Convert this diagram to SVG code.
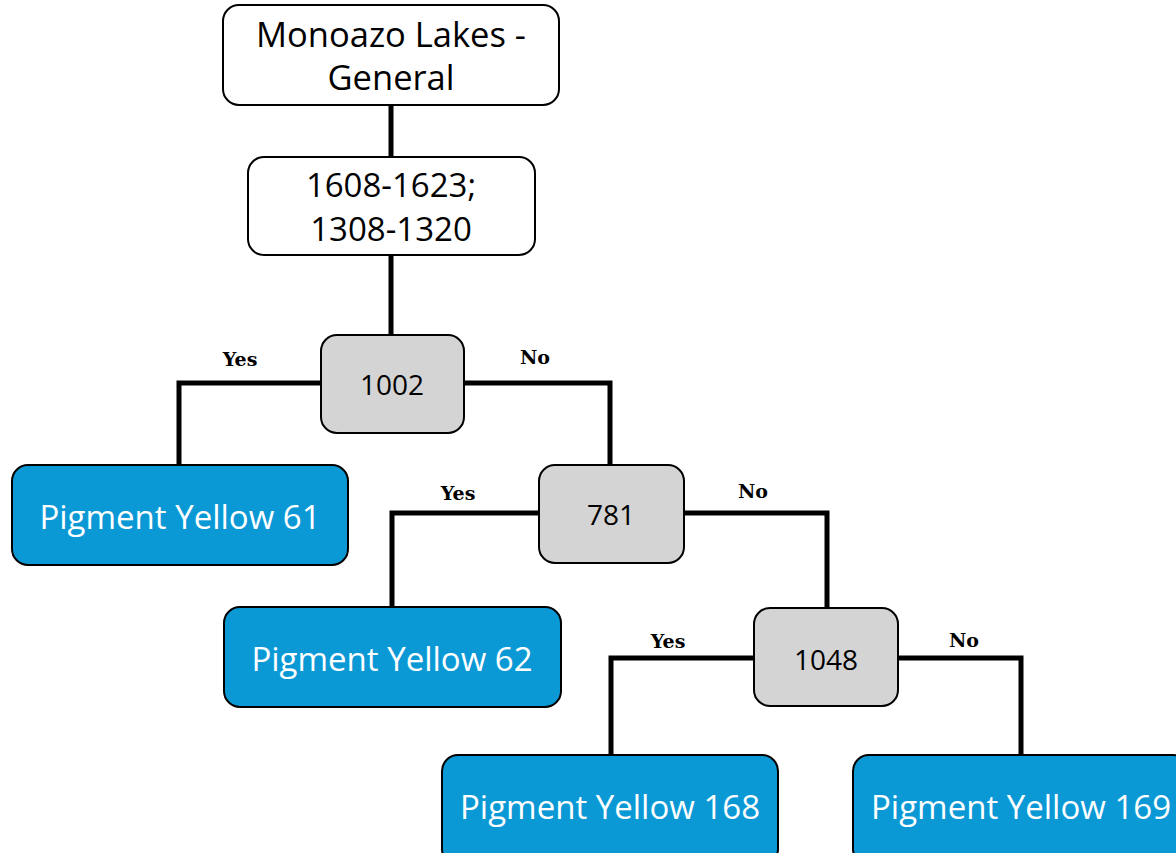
<svg xmlns="http://www.w3.org/2000/svg" width="1176" height="853" viewBox="0 0 1176 853">
  <style>
    .box { stroke: #000; stroke-width: 2; }
    .white { fill: #ffffff; }
    .test { fill: #d4d4d4; }
    .leaf { fill: #0b99d6; }
    .lbl { font-family: "Open Sans", "Noto Sans", sans-serif; text-anchor: middle; }
    .dark { fill: #000; }
    .light { fill: #ffffff; }
    .edge { fill: none; stroke: #000; stroke-width: 5; }
    .ans { font-family: "DejaVu Serif", "Liberation Serif", serif; font-weight: bold; font-size: 19px; text-anchor: middle; fill: #000; }
  </style>

  <g id="connectors">
    <path class="edge" d="M391 105 V157"/>
    <path class="edge" d="M391 255 V335"/>
    <path class="edge" d="M321 383 H179 V465"/>
    <path class="edge" d="M464 383 H610 V465"/>
    <path class="edge" d="M539 513 H392 V607"/>
    <path class="edge" d="M684 513 H827 V608"/>
    <path class="edge" d="M754 658 H611 V755"/>
    <path class="edge" d="M898 658 H1021 V755"/>
    <text class="ans" x="240" y="366">Yes</text>
    <text class="ans" x="535" y="364">No</text>
    <text class="ans" x="458" y="500">Yes</text>
    <text class="ans" x="753" y="498">No</text>
    <text class="ans" x="668" y="648">Yes</text>
    <text class="ans" x="964" y="647">No</text>
  </g>

  <g id="root">
    <rect class="box white" x="223" y="5" width="336" height="100" rx="16"/>
    <text class="lbl dark" x="391" y="47" font-size="34.5" font-family="Lato, 'Open Sans', sans-serif">Monoazo Lakes -</text>
    <text class="lbl dark" x="391" y="90" font-size="34.5" font-family="Lato, 'Open Sans', sans-serif">General</text>
  </g>

  <g id="range">
    <rect class="box white" x="248" y="157" width="287" height="98" rx="16"/>
    <text class="lbl dark" x="391" y="197" font-size="33">1608-1623;</text>
    <text class="lbl dark" x="391" y="241" font-size="33">1308-1320</text>
  </g>

  <g id="n1002">
    <rect class="box test" x="321" y="335" width="143" height="98" rx="16"/>
    <text class="lbl dark" x="392" y="395" font-size="28">1002</text>
  </g>

  <g id="py61">
    <rect class="box leaf" x="12" y="465" width="336" height="100" rx="16"/>
    <text class="lbl light" x="180" y="529" font-size="33">Pigment Yellow 61</text>
  </g>

  <g id="n781">
    <rect class="box test" x="539" y="465" width="145" height="98" rx="16"/>
    <text class="lbl dark" x="611" y="525" font-size="28">781</text>
  </g>

  <g id="py62">
    <rect class="box leaf" x="224" y="607" width="337" height="100" rx="16"/>
    <text class="lbl light" x="392" y="671" font-size="33">Pigment Yellow 62</text>
  </g>

  <g id="n1048">
    <rect class="box test" x="754" y="608" width="144" height="98" rx="16"/>
    <text class="lbl dark" x="826" y="670" font-size="28">1048</text>
  </g>

  <g id="py168">
    <rect class="box leaf" x="442" y="755" width="336" height="110" rx="16"/>
    <text class="lbl light" x="610" y="819" font-size="33">Pigment Yellow 168</text>
  </g>

  <g id="py169">
    <rect class="box leaf" x="853" y="755" width="336" height="110" rx="16"/>
    <text class="lbl light" x="1021" y="819" font-size="33">Pigment Yellow 169</text>
  </g>
</svg>
